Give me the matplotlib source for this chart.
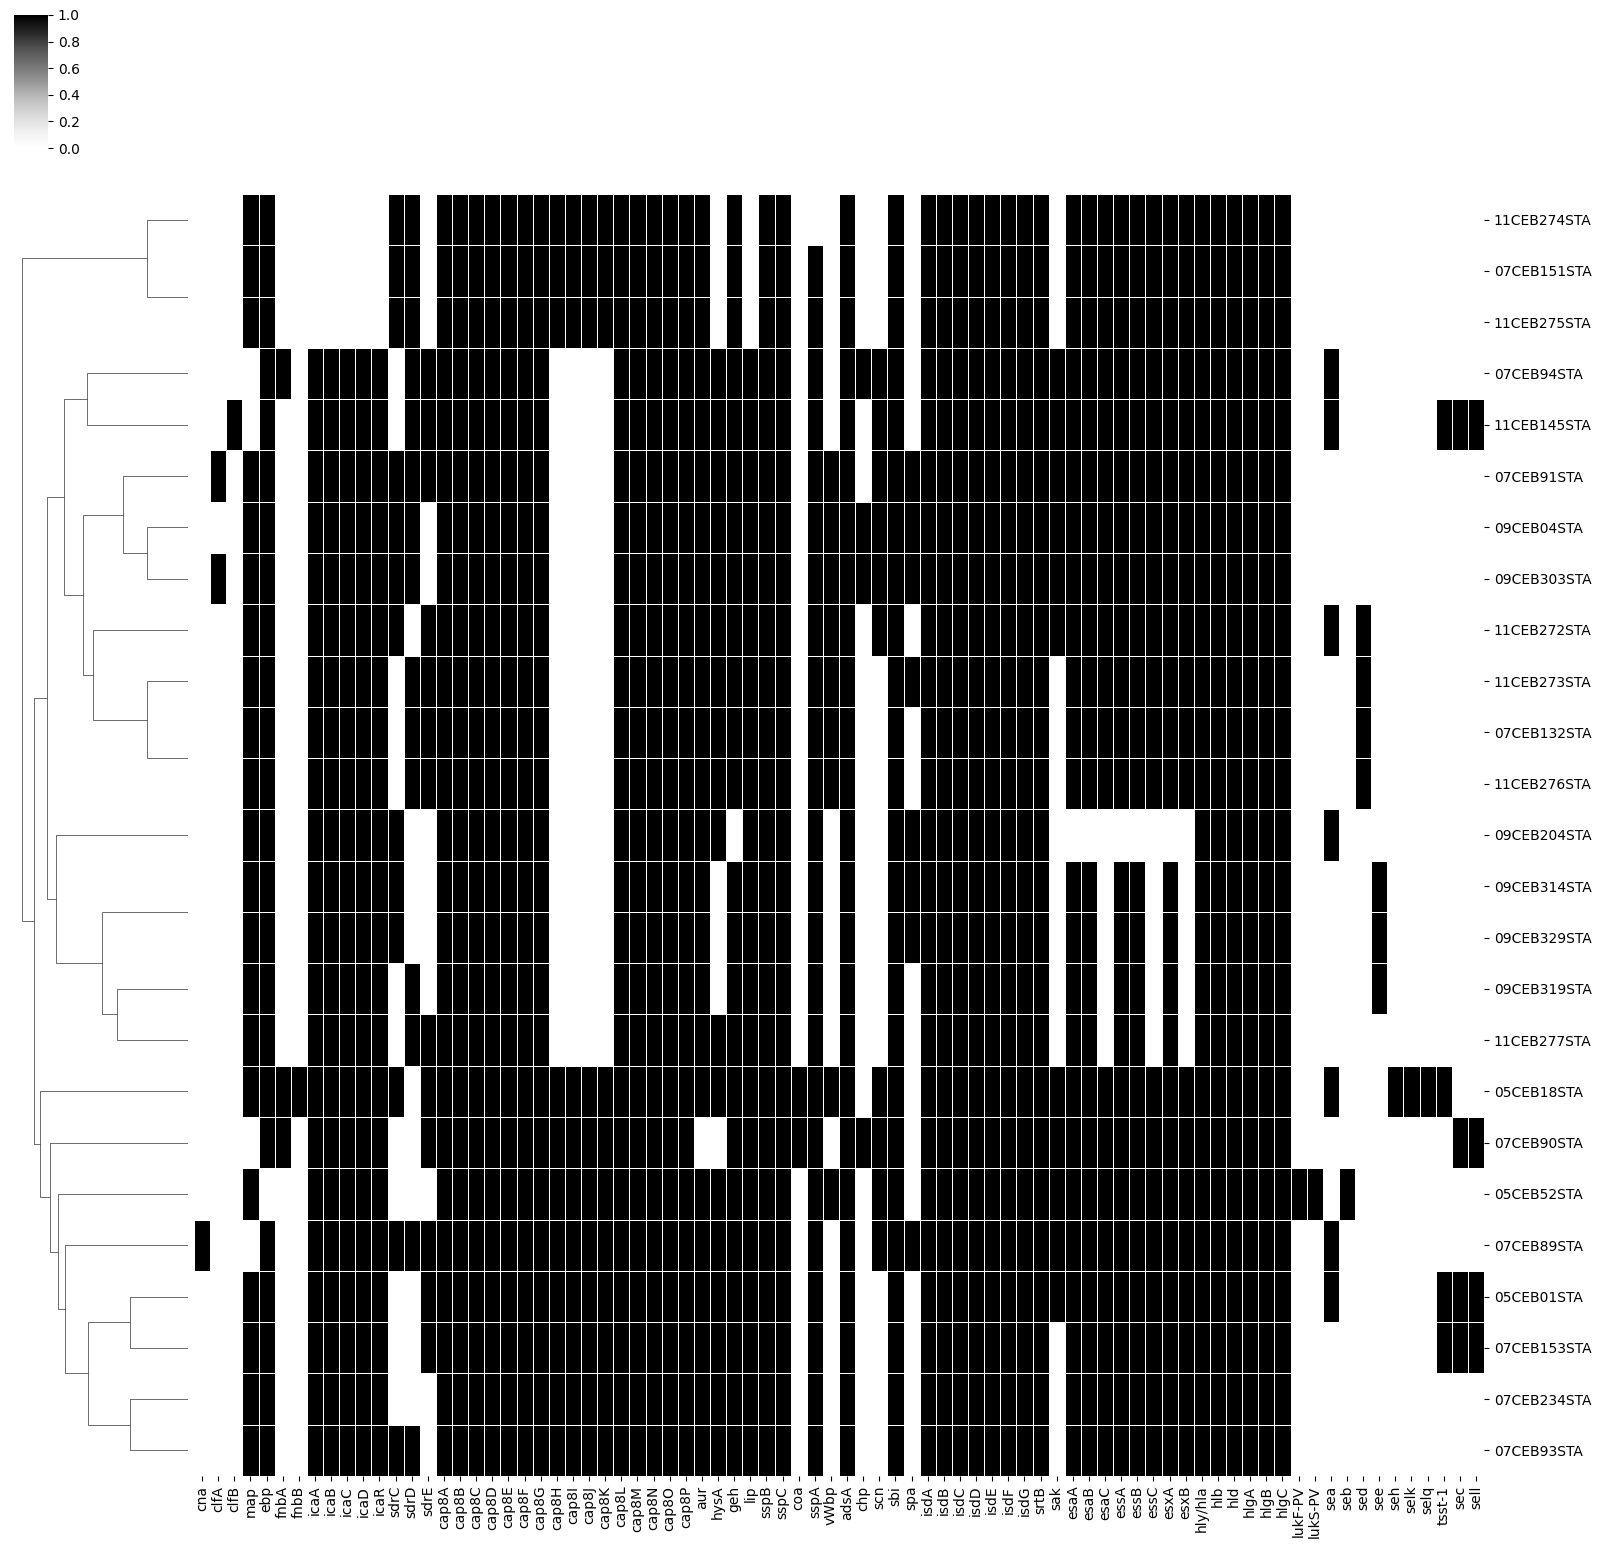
import numpy as np
import pandas as pd
import matplotlib
matplotlib.use("Agg")
import matplotlib.pyplot as plt
import seaborn as sns
from scipy.cluster import hierarchy

genes = ["cna", "clfA", "clfB", "map", "ebp", "fnbA", "fnbB", "icaA", "icaB", "icaC",
         "icaD", "icaR", "sdrC", "sdrD", "sdrE", "cap8A", "cap8B", "cap8C", "cap8D", "cap8E",
         "cap8F", "cap8G", "cap8H", "cap8I", "cap8J", "cap8K", "cap8L", "cap8M", "cap8N", "cap8O",
         "cap8P", "aur", "hysA", "geh", "lip", "sspB", "sspC", "coa", "sspA", "vWbp",
         "adsA", "chp", "scn", "sbi", "spa", "isdA", "isdB", "isdC", "isdD", "isdE",
         "isdF", "isdG", "srtB", "sak", "esaA", "esaB", "esaC", "essA", "essB", "essC",
         "esxA", "esxB", "hly/hla", "hlb", "hld", "hlgA", "hlgB", "hlgC", "lukF-PV", "lukS-PV",
         "sea", "seb", "sed", "see", "seh", "selk", "selq", "tsst-1", "sec", "sell"]

isolates = ["11CEB274STA", "07CEB151STA", "11CEB275STA", "07CEB94STA", "11CEB145STA",
            "07CEB91STA", "09CEB04STA", "09CEB303STA", "11CEB272STA", "11CEB273STA",
            "07CEB132STA", "11CEB276STA", "09CEB204STA", "09CEB314STA", "09CEB329STA",
            "09CEB319STA", "11CEB277STA", "05CEB18STA", "07CEB90STA", "05CEB52STA",
            "07CEB89STA", "05CEB01STA", "07CEB153STA", "07CEB234STA", "07CEB93STA"]

# gene presence (1) / absence (0), blocks of 10 genes in the order above
profiles = [
    "0001100000 0011011111 1111111111 1101011000 1001011111 1110111111 1111111100 0000000000",
    "0001100000 0011011111 1111111111 1101011010 1001011111 1110111111 1111111100 0000000000",
    "0001100000 0011011111 1111111111 1101011010 1001011111 1110111111 1111111100 0000000000",
    "0000110111 1101111111 1100001111 1111111010 1111011111 1111111111 1111111100 1000000000",
    "0010100111 1101111111 1100001111 1111111010 1011011111 1111111111 1111111100 1000000111",
    "0101100111 1111111111 1100001111 1111111011 1011111111 1111111111 1111111100 0000000000",
    "0001100111 1111011111 1100001111 1111111011 1111111111 1111111111 1111111100 0000000000",
    "0101100111 1111011111 1100001111 1111111011 1111111111 1111111111 1111111100 0000000000",
    "0001100111 1110111111 1100001111 1111111011 1011011111 1111111111 1111111100 1010000000",
    "0001100111 1101111111 1100001111 1111111011 1001111111 1110111111 1111111100 0010000000",
    "0001100111 1101111111 1100001111 1111111011 1001011111 1110111111 1111111100 0010000000",
    "0001100111 1101111111 1100001111 1111111011 1001011111 1110111111 1111111100 0010000000",
    "0001100111 1110011111 1100001111 1110111010 1001111111 1110000000 0011111100 1000000000",
    "0001100111 1110011111 1100001111 1101111010 1001111111 1110110110 1011111100 0001000000",
    "0001100111 1110011111 1100001111 1101111010 1001111111 1110110110 1011111100 0001000000",
    "0001100111 1101011111 1100001111 1101111010 1001011111 1110110110 1011111100 0001000000",
    "0001100111 1101111111 1100001111 1111111010 1001011111 1110110110 1011111100 0000000000",
    "0001111111 1110111111 1111111111 1111111111 1011011111 1111111111 1111111100 1000111100",
    "0000110111 1100111111 1111111111 1001111110 1111011111 1111111111 1111111100 0000000011",
    "0001000111 1100011111 1111111111 1111111011 1011011111 1111111111 1111111111 0100000000",
    "1000100111 1111111111 1111111111 1111111010 1011111111 1111111111 1111111100 1000000000",
    "0001100111 1100111111 1111111111 1111111010 1001011111 1111111111 1111111100 1000000111",
    "0001100111 1100111111 1111111111 1111111010 1001011111 1110111111 1111111100 0000000111",
    "0001100111 1100011111 1111111111 1111111010 1001011111 1110111111 1111111100 0000000000",
    "0001100111 1111011111 1111111111 1111111010 1001011111 1110111111 1111111100 0000000000",
]

matrix = [[int(c) for c in p.replace(" ", "")] for p in profiles]
df = pd.DataFrame(matrix, index=isolates, columns=genes)

# average linkage on euclidean distance (clustermap defaults); flip the two
# children of each merge so the leaves come out in the order listed above
Z = hierarchy.linkage(df.values, method="average", metric="euclidean")
n = len(df)
members = {i: [i] for i in range(n)}
for k in range(len(Z)):
    a, b = int(Z[k, 0]), int(Z[k, 1])
    if min(members[a]) > min(members[b]):
        Z[k, 0], Z[k, 1] = b, a
    members[n + k] = members[a] + members[b]

W, H = 1604, 1550
g = sns.clustermap(df, row_linkage=Z, col_cluster=False, cmap="Greys", linewidths=0.5,
                   xticklabels=True, yticklabels=True, figsize=(W / 100, H / 100))

# place the panels where they sit in the original layout (pixels -> figure fraction)
def px_box(x0, y0, x1, y1):
    return [x0 / W, 1 - y1 / H, (x1 - x0) / W, (y1 - y0) / H]

g.ax_heatmap.set_position(px_box(194, 194, 1484, 1476))
g.ax_row_dendrogram.set_position(px_box(14, 194, 188, 1476))
g.ax_col_dendrogram.set_visible(False)
g.ax_cbar.set_position(px_box(14, 15, 48, 148))
g.ax_cbar.set_yticks([0.0, 0.2, 0.4, 0.6, 0.8, 1.0])

print(list(g.data2d.index))
g.figure.savefig("out.png", dpi=100)
